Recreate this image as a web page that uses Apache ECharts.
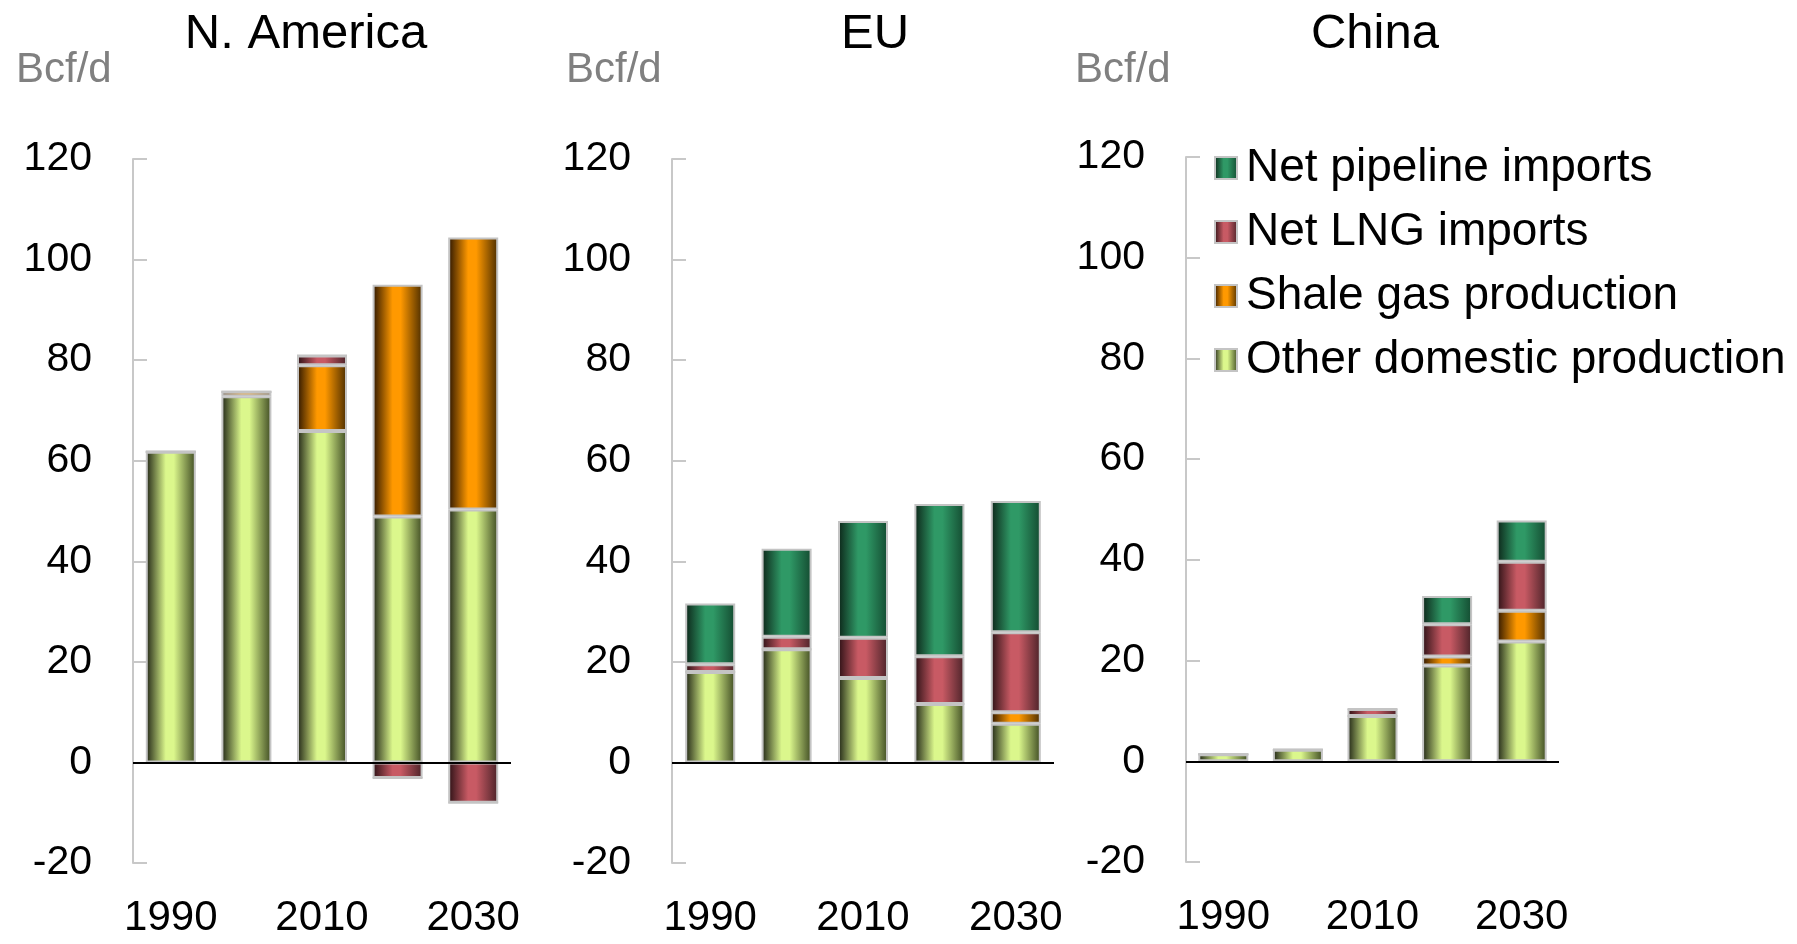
<!DOCTYPE html>
<html>
<head>
<meta charset="utf-8">
<script src="https://cdn.jsdelivr.net/npm/echarts@6/dist/echarts.min.js"></script>
<style>
html,body{margin:0;padding:0;background:#fff;}
#c{width:1797px;height:944px;}
</style>
</head>
<body>
<div id="c"></div>
<script>
// ---- data ----
const categories = ['1990', '2000', '2010', '2020', '2030'];
const regions = ['N. America', 'EU', 'China'];
const seriesNames = ['Other domestic production', 'Shale gas production', 'Net LNG imports', 'Net pipeline imports'];
const legendOrder = ['Net pipeline imports', 'Net LNG imports', 'Shale gas production', 'Other domestic production'];
const yTicks = { min: -20, max: 120, interval: 20 };
const unitLabel = 'Bcf/d';

// N. America
const naOther    = [61.8, 72.8, 65.9, 48.9, 50.3];
const naShale    = [0, 0.9, 13.1, 46.1, 54.1];
const naLNG      = [0, 0, 1.9, -3.1, -8.0];
const naPipeline = [0, 0, 0, 0, 0];
// EU
const euOther    = [18.0, 22.5, 16.8, 11.6, 7.7];
const euShale    = [0, 0, 0, 0, 2.3];
const euLNG      = [1.5, 2.5, 8.0, 9.5, 15.9];
const euPipeline = [12.1, 17.5, 23.2, 30.3, 26.1];
// China
const cnOther    = [1.4, 2.3, 9.0, 19.0, 23.8];
const cnShale    = [0, 0, 0, 1.8, 6.1];
const cnLNG      = [0, 0, 1.4, 6.4, 9.7];
const cnPipeline = [0, 0, 0, 5.6, 8.2];

const regionData = [
  [naOther, naShale, naLNG, naPipeline],
  [euOther, euShale, euLNG, euPipeline],
  [cnOther, cnShale, cnLNG, cnPipeline]
];

// ---- styles ----
const palette = {
  'Other domestic production': ['#1e2214', '#dbf78c', '#3e4a22'],
  'Shale gas production':      ['#2a1400', '#ff9900', '#4a2c00'],
  'Net LNG imports':           ['#2a1014', '#c85a64', '#4a2228'],
  'Net pipeline imports':      ['#0c2418', '#2f9966', '#134a30']
};
function grad(name) {
  const p = palette[name];
  return { type: 'linear', x: 0, y: 0, x2: 1, y2: 0,
    colorStops: [
      { offset: 0, color: p[0] },
      { offset: 0.4, color: p[1] },
      { offset: 0.56, color: p[1] },
      { offset: 1, color: p[2] }
    ] };
}

const grids = [
  { left: 133, top: 159, width: 378, height: 704 },
  { left: 672, top: 159, width: 382, height: 704 },
  { left: 1186, top: 157, width: 373, height: 705 }
];
const titlesX = [306, 875, 1375];
const unitX = [16, 566, 1075];
const FONT = '"Liberation Sans", Arial, Helvetica, sans-serif';

const option = {
  animation: false,
  backgroundColor: '#fff',
  textStyle: { fontFamily: FONT },
  grid: grids.map(g => Object.assign({ containLabel: false }, g)),
  xAxis: grids.map((g, i) => ({
    type: 'category', gridIndex: i, data: categories,
    axisLine: { show: false, onZero: false },
    axisTick: { show: false },
    axisLabel: { interval: 1, color: '#000', fontSize: 42, fontFamily: FONT, margin: 34 },
    splitLine: { show: false }
  })),
  yAxis: grids.map((g, i) => ({
    type: 'value', gridIndex: i, min: yTicks.min, max: yTicks.max, interval: yTicks.interval,
    axisLine: { show: true, lineStyle: { color: '#c8c8c8', width: 2 } },
    axisTick: { show: true, inside: true, length: 14, lineStyle: { color: '#c8c8c8', width: 2 } },
    axisLabel: { color: '#000', fontSize: 41, fontFamily: FONT, margin: 41 },
    splitLine: { show: false }
  })),
  legend: {
    orient: 'vertical', left: 1209, top: 140,
    data: legendOrder,
    icon: 'rect',
    itemWidth: 22, itemHeight: 22, itemGap: 18,
    textStyle: { fontSize: 46, fontFamily: FONT, color: '#000', lineHeight: 46, padding: [0, 0, 0, 4] },
    selectedMode: false
  },
  graphic: [],
  series: []
};

regions.forEach((r, i) => {
  option.graphic.push({
    type: 'text', x: titlesX[i], y: 34,
    style: { text: r, font: '49px ' + FONT, fill: '#000', textAlign: 'center', textVerticalAlign: 'middle' }
  });
  option.graphic.push({
    type: 'text', x: unitX[i], y: 70,
    style: { text: unitLabel, font: '42px ' + FONT, fill: '#808080', textAlign: 'left', textVerticalAlign: 'middle' }
  });
  seriesNames.forEach((name, k) => {
    const s = {
      name: name, type: 'bar', stack: 'total' + i,
      xAxisIndex: i, yAxisIndex: i,
      barWidth: 50,
      data: regionData[i][k],
      itemStyle: { color: grad(name), borderColor: '#c4c4c4', borderWidth: 2 },
      emphasis: { disabled: true }
    };
    if (k === 0) {
      s.markLine = {
        silent: true, symbol: 'none', label: { show: false },
        lineStyle: { color: '#000', width: 2, type: 'solid' },
        data: [{ yAxis: 0 }],
        z: 10
      };
    }
    option.series.push(s);
  });
});

const chart = echarts.init(document.getElementById('c'), null, { renderer: 'canvas' });
chart.setOption(option);
</script>
</body>
</html>
